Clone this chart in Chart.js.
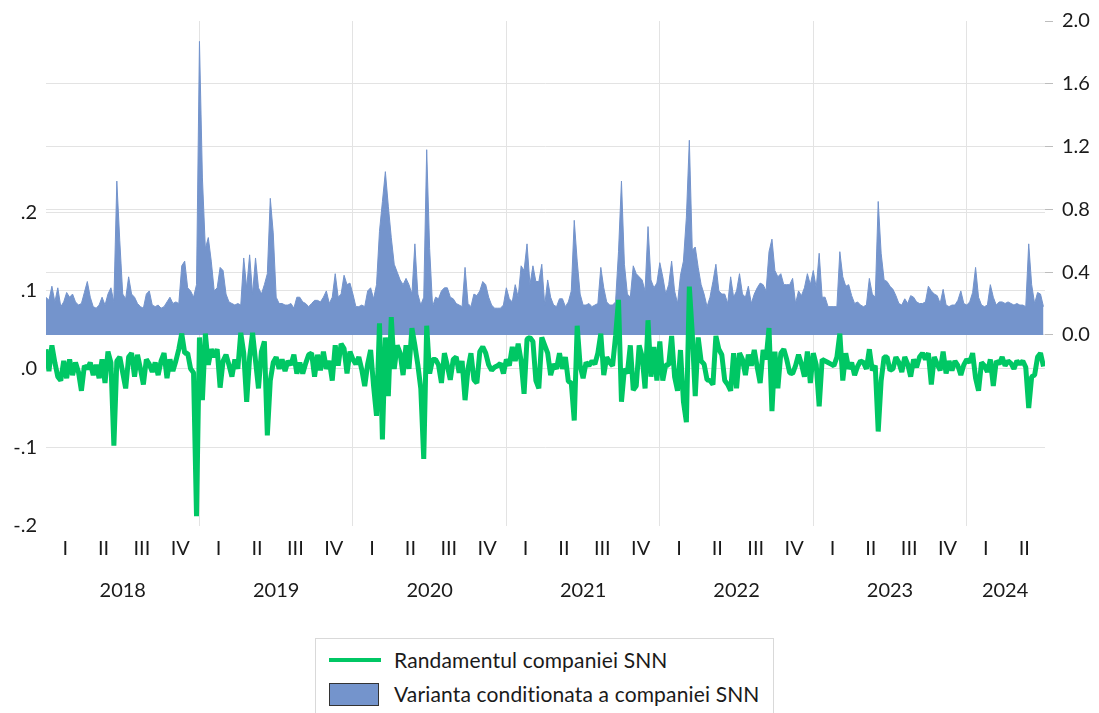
<!DOCTYPE html>
<html>
<head>
<meta charset="utf-8">
<title>SNN</title>
<script src="https://cdn.jsdelivr.net/npm/chart.js@4.4.1/dist/chart.umd.min.js"></script>
<style>
  html, body { margin: 0; padding: 0; background: #fff; overflow: hidden; }
  #wrap { position: relative; width: 1099px; height: 713px; }
  #chart { position: absolute; left: 0; top: 0; }
  .legend {
    position: absolute; left: 315px; top: 638px; width: 459px; height: 84px;
    border: 1px solid #d9d9d9; box-sizing: border-box;
    font-family: Lato, "Noto Sans", sans-serif; font-size: 21px; color: #1a1a1a;
  }
  .legend .row { position: absolute; left: 0; height: 30px; width: 100%; }
  .legend .line { position: absolute; left: 13px; top: 13px; width: 52px; height: 4px; background: #00c764; }
  .legend .box { position: absolute; left: 13px; top: 4px; width: 48px; height: 21px; background: #7494cc; border: 1px solid #333; }
  .legend .txt { position: absolute; left: 78px; top: 0; line-height: 30px; white-space: nowrap; letter-spacing: 0.15px; }
</style>
</head>
<body>
<div id="wrap">
  <canvas id="chart" width="1099" height="625"></canvas>
  <div class="legend">
    <div class="row" style="top: 6px;"><div class="line"></div><div class="txt">Randamentul companiei SNN</div></div>
    <div class="row" style="top: 40px;"><div class="box"></div><div class="txt">Varianta conditionata a companiei SNN</div></div>
  </div>
</div>
<script>
// ===========================
// Weekly series, one array per year
// ===========================
const years = [2018, 2019, 2020, 2021, 2022, 2023, 2024];
const quarterLabels = ["I", "II", "III", "IV"];
const leftTicks = [-0.2, -0.1, 0, 0.1, 0.2];
const rightTicks = [0, 0.4, 0.8, 1.2, 1.6, 2.0];

// Randamentul (left axis)
const ret2018 = [0.025, -0.003, 0.03, 0.008, -0.01, -0.015, 0.01, -0.012, 0.012, -0.008, 0.008, -0.004, -0.028, 0.004, 0.0, 0.008, -0.008, 0.005, -0.012, 0.012, -0.018, 0.022, 0.008, -0.098, 0.01, 0.015, -0.005, -0.025, 0.015, 0.02, -0.01, 0.018, 0.0, -0.02, 0.012, 0.006, -0.004, 0.008, -0.008, 0.01, 0.02, -0.012, 0.012, -0.003, 0.01, 0.025, 0.045, 0.02, 0.02, 0.0, -0.005, -0.188];
const ret2019 = [0.04, -0.04, 0.045, 0.005, 0.025, 0.015, 0.025, -0.024, 0.01, 0.018, 0.005, -0.01, 0.012, 0.0, 0.046, 0.02, -0.042, 0.015, 0.046, 0.01, -0.025, 0.022, 0.035, -0.085, -0.015, 0.008, 0.015, 0.0, 0.012, -0.003, 0.01, 0.005, 0.018, -0.006, 0.008, -0.006, 0.007, 0.018, 0.02, -0.01, 0.018, -0.002, 0.022, 0.0, 0.01, -0.015, 0.03, 0.004, 0.032, 0.026, -0.006, 0.022];
const ret2020 = [0.012, 0.006, 0.015, -0.001, -0.022, 0.006, 0.024, -0.022, -0.06, 0.058, -0.09, 0.04, -0.035, 0.066, 0.0, 0.03, 0.02, -0.008, 0.03, 0.0, 0.052, 0.03, 0.005, -0.025, -0.115, 0.055, -0.006, 0.012, 0.012, 0.005, -0.018, 0.02, 0.004, -0.014, 0.012, 0.015, -0.005, 0.01, -0.04, 0.0, 0.02, -0.014, -0.018, 0.022, 0.028, 0.02, 0.005, -0.002, 0.002, 0.004, 0.007, -0.006];
const ret2021 = [0.012, 0.004, 0.028, 0.01, 0.032, 0.01, -0.032, 0.038, 0.04, 0.035, -0.015, -0.025, 0.04, 0.03, 0.02, -0.008, 0.006, 0.0, 0.02, 0.0, 0.015, -0.016, -0.018, -0.066, 0.055, 0.004, -0.012, 0.008, 0.004, 0.01, 0.006, 0.02, 0.045, -0.008, 0.015, 0.008, 0.004, 0.042, 0.088, -0.042, 0.0, -0.006, 0.03, -0.027, -0.022, 0.03, 0.016, -0.025, 0.062, -0.01, 0.028, -0.015];
const ret2022 = [0.035, -0.015, 0.005, 0.005, 0.042, -0.01, -0.028, 0.024, -0.042, -0.068, 0.105, 0.045, -0.035, 0.04, 0.01, 0.006, -0.014, -0.015, -0.02, 0.042, 0.025, 0.018, -0.015, -0.02, -0.028, 0.02, -0.025, 0.02, 0.012, -0.008, 0.018, 0.004, 0.024, 0.002, -0.018, 0.024, 0.012, 0.052, -0.054, 0.022, -0.025, 0.02, 0.025, 0.012, -0.005, -0.006, 0.004, 0.018, 0.006, -0.01, 0.022, -0.018];
const ret2023 = [0.02, 0.005, -0.048, 0.012, 0.01, 0.008, 0.006, 0.004, 0.015, 0.045, -0.015, 0.02, 0.0, 0.008, -0.008, 0.003, 0.01, 0.008, 0.0, 0.025, -0.002, 0.004, -0.08, -0.015, 0.015, 0.015, -0.002, 0.0, 0.015, 0.008, -0.004, 0.015, 0.006, -0.01, 0.012, 0.002, 0.015, 0.02, 0.012, 0.02, -0.02, 0.015, 0.006, -0.002, 0.022, -0.006, 0.01, -0.002, 0.01, 0.004, -0.008, 0.005];
const ret2024 = [0.012, 0.008, 0.02, -0.012, -0.028, 0.008, 0.004, -0.004, 0.012, -0.022, 0.01, 0.006, 0.015, 0.004, 0.01, 0.007, 0.0, 0.01, 0.006, 0.01, 0.002, -0.05, -0.01, -0.008, 0.015, 0.02, 0.003];

// Varianta conditionata (right axis)
const var2018 = [0.24, 0.22, 0.31, 0.21, 0.30, 0.18, 0.21, 0.27, 0.24, 0.26, 0.21, 0.19, 0.20, 0.27, 0.34, 0.24, 0.18, 0.17, 0.19, 0.24, 0.19, 0.26, 0.30, 0.21, 0.98, 0.60, 0.26, 0.23, 0.37, 0.26, 0.24, 0.20, 0.18, 0.17, 0.26, 0.28, 0.19, 0.18, 0.19, 0.17, 0.18, 0.21, 0.24, 0.20, 0.21, 0.20, 0.44, 0.47, 0.30, 0.28, 0.24, 0.32];
const var2019 = [1.87, 1.0, 0.55, 0.62, 0.47, 0.28, 0.30, 0.43, 0.41, 0.26, 0.21, 0.20, 0.19, 0.20, 0.19, 0.49, 0.30, 0.51, 0.26, 0.49, 0.30, 0.26, 0.32, 0.39, 0.87, 0.65, 0.24, 0.20, 0.20, 0.19, 0.19, 0.20, 0.17, 0.24, 0.24, 0.21, 0.20, 0.18, 0.20, 0.22, 0.22, 0.21, 0.24, 0.28, 0.20, 0.24, 0.39, 0.24, 0.26, 0.38, 0.32, 0.33];
const var2020 = [0.26, 0.18, 0.18, 0.19, 0.18, 0.28, 0.30, 0.23, 0.32, 0.66, 0.85, 1.04, 0.82, 0.62, 0.45, 0.40, 0.35, 0.32, 0.36, 0.32, 0.26, 0.58, 0.26, 0.19, 0.24, 1.18, 0.55, 0.18, 0.24, 0.23, 0.28, 0.30, 0.30, 0.24, 0.23, 0.20, 0.19, 0.18, 0.43, 0.20, 0.18, 0.26, 0.25, 0.28, 0.34, 0.32, 0.24, 0.19, 0.17, 0.17, 0.17, 0.19];
const var2021 = [0.30, 0.23, 0.21, 0.32, 0.24, 0.44, 0.41, 0.58, 0.32, 0.44, 0.34, 0.34, 0.45, 0.19, 0.35, 0.24, 0.19, 0.18, 0.23, 0.23, 0.18, 0.21, 0.28, 0.73, 0.47, 0.26, 0.19, 0.19, 0.20, 0.18, 0.19, 0.20, 0.43, 0.30, 0.21, 0.19, 0.19, 0.21, 0.53, 0.98, 0.45, 0.26, 0.24, 0.44, 0.39, 0.37, 0.35, 0.28, 0.69, 0.35, 0.30, 0.33];
const var2022 = [0.46, 0.37, 0.26, 0.32, 0.47, 0.28, 0.20, 0.38, 0.47, 0.75, 1.24, 0.54, 0.56, 0.43, 0.32, 0.26, 0.18, 0.24, 0.34, 0.45, 0.28, 0.26, 0.26, 0.20, 0.37, 0.24, 0.28, 0.39, 0.26, 0.24, 0.31, 0.20, 0.26, 0.30, 0.33, 0.32, 0.28, 0.53, 0.61, 0.41, 0.37, 0.39, 0.32, 0.32, 0.32, 0.36, 0.20, 0.28, 0.25, 0.30, 0.39, 0.32];
const var2023 = [0.41, 0.30, 0.52, 0.24, 0.24, 0.18, 0.18, 0.18, 0.18, 0.53, 0.37, 0.31, 0.32, 0.25, 0.20, 0.21, 0.19, 0.18, 0.19, 0.36, 0.26, 0.24, 0.85, 0.52, 0.35, 0.34, 0.31, 0.29, 0.25, 0.20, 0.19, 0.23, 0.20, 0.25, 0.24, 0.21, 0.20, 0.20, 0.21, 0.31, 0.28, 0.26, 0.25, 0.20, 0.29, 0.19, 0.18, 0.19, 0.19, 0.22, 0.28, 0.20];
const var2024 = [0.19, 0.21, 0.27, 0.43, 0.24, 0.19, 0.18, 0.19, 0.32, 0.24, 0.19, 0.21, 0.21, 0.20, 0.21, 0.20, 0.19, 0.20, 0.19, 0.19, 0.18, 0.58, 0.32, 0.20, 0.27, 0.26, 0.18];

const returnsByYear = [ret2018, ret2019, ret2020, ret2021, ret2022, ret2023, ret2024];
const varianceByYear = [var2018, var2019, var2020, var2021, var2022, var2023, var2024];

// ===========================
// Helpers
// ===========================
// week k of a year sits at year + k/52 on the time axis
function toPoints(byYear) {
    const pts = [];
    byYear.forEach((values, i) => {
        values.forEach((v, k) => pts.push({ x: years[i] + k / 52, y: v }));
    });
    return pts;
}

const returnPts = toPoints(returnsByYear);
const variancePts = toPoints(varianceByYear);
const lastX = returnPts[returnPts.length - 1].x;
const xMin = years[0];
const xMax = lastX + 0.01;

function leftLabel(v) {
    const s = Math.abs(v).toFixed(1).replace(/^0/, "");
    return v < 0 ? "-" + s : s;
}

const GRID = "#e3e3e3";
const fontSpec = { family: "Lato, 'Noto Sans', sans-serif", size: 20 };

// ===========================
// Chart
// ===========================
const ctx = document.getElementById("chart").getContext("2d");
new Chart(ctx, {
    type: "line",
    data: {
        datasets: [
            {
                label: "Randamentul companiei SNN",
                data: returnPts,
                yAxisID: "y",
                borderColor: "#00c764",
                borderWidth: 5,
                borderJoinStyle: "bevel",
                pointRadius: 0,
                tension: 0,
                fill: false
            },
            {
                label: "Varianta conditionata a companiei SNN",
                data: variancePts,
                yAxisID: "y2",
                borderColor: "#7494cc",
                backgroundColor: "#7494cc",
                borderWidth: 1,
                pointRadius: 0,
                tension: 0,
                fill: "origin"
            }
        ]
    },
    options: {
        responsive: false,
        animation: false,
        devicePixelRatio: 1,
        layout: { padding: { top: 20, left: 0, right: 0, bottom: 3.5 } },
        plugins: { legend: { display: false }, tooltip: { enabled: false } },
        scales: {
            x: {
                type: "linear",
                position: "bottom",
                min: xMin,
                max: xMax,
                border: { display: false },
                grid: {
                    drawTicks: false,
                    color: c => (c.tick && Number.isInteger(c.tick.value) ? GRID : "rgba(0,0,0,0)")
                },
                afterBuildTicks: scale => {
                    const ticks = [];
                    years.forEach(y => {
                        if (y > xMin) ticks.push({ value: y });
                        for (let q = 0; q < 4; q++) {
                            if (y + q / 4 < lastX) ticks.push({ value: y + (q + 0.5) / 4 });
                        }
                    });
                    scale.ticks = ticks;
                },
                afterFit: scale => { scale.height = 36; },
                ticks: {
                    autoSkip: false,
                    maxRotation: 0,
                    padding: 11,
                    color: "#1a1a1a",
                    font: fontSpec,
                    callback: v => {
                        if (Number.isInteger(v)) return "";
                        return quarterLabels[Math.floor((v - Math.floor(v)) * 4)];
                    }
                }
            },
            xYear: {
                type: "linear",
                position: "bottom",
                min: xMin,
                max: xMax,
                border: { display: false },
                grid: { display: false },
                afterBuildTicks: scale => {
                    scale.ticks = years.map(y => ({ value: (y + Math.min(y + 1, lastX)) / 2 }));
                },
                afterFit: scale => { scale.height = 60; },
                ticks: {
                    autoSkip: false,
                    maxRotation: 0,
                    padding: 9,
                    color: "#1a1a1a",
                    font: fontSpec,
                    callback: v => String(Math.floor(v))
                }
            },
            y: {
                position: "left",
                min: -0.2,
                max: 0.444,
                border: { display: false },
                grid: {
                    drawTicks: false,
                    color: c => (c.tick && c.tick.value <= -0.2 ? "rgba(0,0,0,0)" : GRID)
                },
                afterBuildTicks: scale => { scale.ticks = leftTicks.map(v => ({ value: v })); },
                afterFit: scale => { scale.width = 46; },
                ticks: { padding: 9, color: "#1a1a1a", font: fontSpec, callback: v => leftLabel(v) }
            },
            y2: {
                position: "right",
                min: -1.2146,
                max: 2.0,
                border: { display: false },
                grid: {
                    tickLength: 8,
                    tickColor: "#bdbdbd",
                    color: c => (c.tick && c.tick.value >= 2 ? "rgba(0,0,0,0)" : GRID)
                },
                afterBuildTicks: scale => { scale.ticks = rightTicks.map(v => ({ value: v })); },
                afterFit: scale => { scale.width = 54; },
                ticks: { padding: 9, color: "#1a1a1a", font: fontSpec, callback: v => v.toFixed(1) }
            }
        }
    }
});
</script>
</body>
</html>
